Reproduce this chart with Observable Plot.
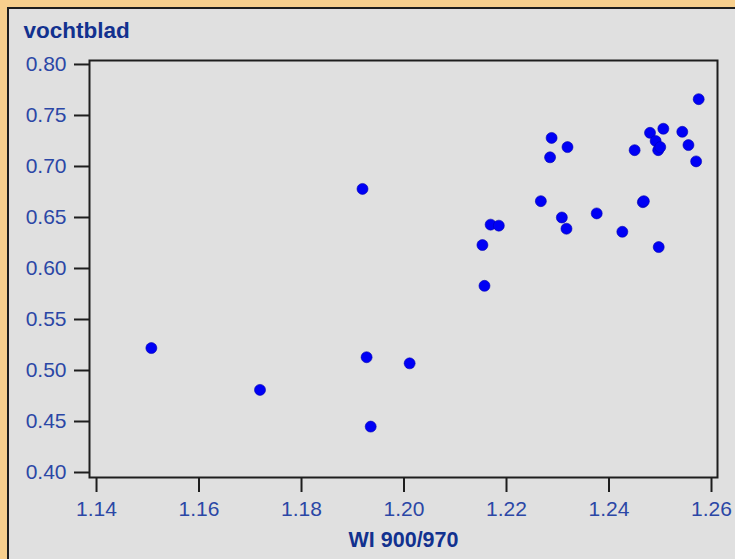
<!DOCTYPE html>
<html>
<head>
<meta charset="utf-8">
<script src="https://cdn.jsdelivr.net/npm/d3@7"></script>
<script src="https://cdn.jsdelivr.net/npm/@observablehq/plot@0.6"></script>
<style>
  html, body { margin: 0; padding: 0; }
  body { width: 735px; height: 559px; background: #f7cf8d; position: relative; overflow: hidden; font-family: "Liberation Sans", Arial, sans-serif; }
  #panel { position: absolute; left: 7px; top: 7px; width: 800px; height: 600px; background: #e0e0e0; border-left: 2px solid #1e1e1e; border-top: 2px solid #1e1e1e; box-sizing: border-box; }
  #chart { position: absolute; left: 0; top: 0; }
</style>
</head>
<body>
<div id="panel"></div>
<div id="chart"></div>
<script>
const titleText = "vochtblad";
const xLabel = "WI 900/970";
const xTicks = [1.14, 1.16, 1.18, 1.20, 1.22, 1.24, 1.26];
const yTicks = [0.40, 0.45, 0.50, 0.55, 0.60, 0.65, 0.70, 0.75, 0.80];
const wi = [1.1507, 1.1719, 1.1919, 1.1927, 1.1935, 1.2011, 1.2153, 1.2157, 1.2169, 1.2185,
            1.2267, 1.2285, 1.2288, 1.2308, 1.2317, 1.2319, 1.2376, 1.2426, 1.2450, 1.2466,
            1.2468, 1.2480, 1.2491, 1.2496, 1.2500, 1.2497, 1.2506, 1.2543, 1.2555, 1.2570, 1.2575];
const vocht = [0.522, 0.481, 0.678, 0.513, 0.445, 0.507, 0.623, 0.583, 0.643, 0.642,
               0.666, 0.709, 0.728, 0.650, 0.639, 0.719, 0.654, 0.636, 0.716, 0.665,
               0.666, 0.733, 0.725, 0.716, 0.719, 0.621, 0.737, 0.734, 0.721, 0.705, 0.766];

const points = wi.map((x, i) => ({x, y: vocht[i]}));
const fmt = d3.format(".2f");
const tickColor = "#2b47a6";

const chart = Plot.plot({
  width: 735,
  height: 559,
  marginLeft: 89,
  marginRight: 18,
  marginTop: 60,
  marginBottom: 82,
  style: {background: "transparent", fontFamily: "'Liberation Sans', Arial, sans-serif", fontSize: "21px"},
  x: {domain: [1.13863, 1.26117]},
  y: {domain: [0.3951, 0.8039]},
  marks: [
    Plot.axisX({ticks: xTicks, tickFormat: fmt, tickSize: 15, tickPadding: 9, strokeWidth: 2, stroke: "#1e1e1e", color: tickColor, fontSize: 21, label: null}),
    Plot.axisY({ticks: yTicks, tickFormat: fmt, tickSize: 15, tickPadding: 8, strokeWidth: 2, stroke: "#1e1e1e", color: tickColor, fontSize: 21, label: null}),
    Plot.frame({stroke: "#1e1e1e", strokeWidth: 2}),
    Plot.dot(points, {x: "x", y: "y", r: 5.5, fill: "#0000f5", stroke: "#0000b0", strokeWidth: 0.6}),
    Plot.text([xLabel], {frameAnchor: "bottom", lineAnchor: "middle", dy: 63, text: d => d, fontWeight: "bold", fontSize: 21.5, fill: "#12318f"}),
    Plot.text([titleText], {frameAnchor: "top-left", lineAnchor: "middle", dx: -66, dy: -30, textAnchor: "start", text: d => d, fontWeight: "bold", fontSize: 22.5, fill: "#12318f"})
  ]
});
document.getElementById("chart").appendChild(chart);
</script>
</body>
</html>
